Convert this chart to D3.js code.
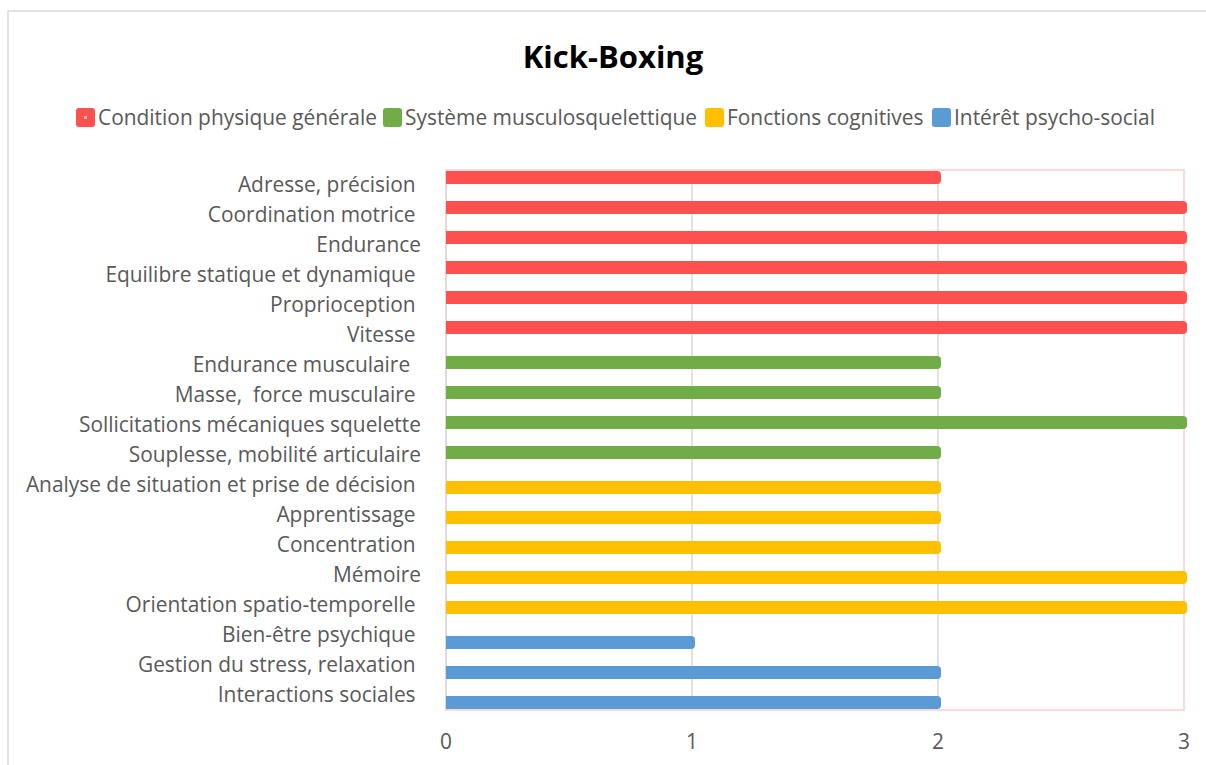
<!DOCTYPE html>
<html>
<head>
<meta charset="utf-8">
<script src="https://cdn.jsdelivr.net/npm/d3@7"></script>
<style>
  html, body { margin: 0; padding: 0; background: #fff; }
  svg text { white-space: pre; }
</style>
</head>
<body>
<div id="chart"></div>
<script>
// Activity categories, top to bottom, with trailing spaces kept as typed
const categories = [
  "Adresse, précision ", "Coordination motrice ", "Endurance", "Equilibre statique et dynamique ",
  "Proprioception ", "Vitesse ",
  "Endurance musculaire  ", "Masse,  force musculaire ", "Sollicitations mécaniques squelette",
  "Souplesse, mobilité articulaire",
  "Analyse de situation et prise de décision ", "Apprentissage ", "Concentration ", "Mémoire",
  "Orientation spatio-temporelle ",
  "Bien-être psychique ", "Gestion du stress, relaxation ", "Interactions sociales "
];
// Series index of each category (0..3)
const groupOf = [0,0,0,0,0,0, 1,1,1,1, 2,2,2,2,2, 3,3,3];
// Score for each category
const values = [2,3,3,3,3,3, 2,2,3,2, 2,2,2,3,3, 1,2,2];

const seriesNames = ["Condition physique générale", "Système musculosquelettique", "Fonctions cognitives", "Intérêt psycho-social"];
const seriesColors = ["#ff5050", "#70ad47", "#ffc000", "#5b9bd5"];
const xTicks = [0, 1, 2, 3];

const W = 1206, H = 765;
const plot = { left: 446, right: 1184, top: 170, bottom: 710 };
const barH = 13;
const labelFont = "'Open Sans', 'Noto Sans', sans-serif";
const labelSize = 20.9;

const svg = d3.select("#chart").append("svg")
  .attr("width", W).attr("height", H);

// chart frame
svg.append("rect")
  .attr("x", 8).attr("y", 11).attr("width", W + 20).attr("height", H + 20)
  .attr("fill", "#fff").attr("stroke", "#d9d9d9").attr("stroke-width", 1.5);

// title
svg.append("text")
  .attr("x", 613).attr("y", 68)
  .attr("text-anchor", "middle")
  .attr("font-family", labelFont)
  .attr("font-weight", "bold")
  .attr("font-size", 31)
  .attr("fill", "#000")
  .text("Kick-Boxing");

// legend
const legendX = [76, 383, 705, 932];
const legend = svg.append("g");
seriesNames.forEach((name, i) => {
  const g = legend.append("g").attr("transform", `translate(${legendX[i]},108)`);
  g.append("rect").attr("x", 0).attr("y", 0).attr("width", 19).attr("height", 19)
    .attr("rx", 3).attr("fill", seriesColors[i]);
  if (i === 0) {
    g.append("rect").attr("x", 8).attr("y", 8).attr("width", 3).attr("height", 3)
      .attr("fill", "#ffb3b3");
  }
  g.append("text").attr("x", 22).attr("y", 17)
    .attr("font-family", labelFont).attr("font-size", labelSize).attr("fill", "#595959")
    .text(name);
});

// scales: one band per category, series bars shifted within the band
const x = d3.scaleLinear().domain([0, 3]).range([plot.left, plot.right]);
const y = d3.scaleBand().domain(categories).range([plot.top, plot.bottom]);
const seriesShift = d3.scaleLinear().domain([0, seriesNames.length - 1]).range([-7.5, 7.5]);

// gridlines
svg.append("g").selectAll("line")
  .data(xTicks.slice(1, -1))
  .join("line")
  .attr("x1", d => x(d)).attr("x2", d => x(d))
  .attr("y1", plot.top).attr("y2", plot.bottom)
  .attr("stroke", "#d9d9d9").attr("stroke-width", 1.5);

// plot area border
svg.append("rect")
  .attr("x", plot.left).attr("y", plot.top)
  .attr("width", plot.right - plot.left).attr("height", plot.bottom - plot.top)
  .attr("fill", "none").attr("stroke", "#fcdada").attr("stroke-width", 2);
svg.append("line")
  .attr("x1", plot.left).attr("x2", plot.left)
  .attr("y1", plot.top).attr("y2", plot.bottom)
  .attr("stroke", "#d9d9d9").attr("stroke-width", 1.5);

// bars: square at the axis, rounded at the value end
const r = 4;
svg.append("g").selectAll("path")
  .data(categories.map((c, i) => ({ c, v: values[i], g: groupOf[i] })))
  .join("path")
  .attr("d", d => {
    const cy = y(d.c) + y.bandwidth() / 2 + seriesShift(d.g);
    const x0 = x(0), x1 = x(d.v) + 3, y0 = cy - barH / 2, y1 = cy + barH / 2;
    return `M${x0},${y0}H${x1 - r}Q${x1},${y0} ${x1},${y0 + r}V${y1 - r}Q${x1},${y1} ${x1 - r},${y1}H${x0}Z`;
  })
  .attr("fill", d => seriesColors[d.g]);

// category labels
svg.append("g").selectAll("text")
  .data(categories)
  .join("text")
  .attr("x", 421)
  .attr("y", d => y(d) + y.bandwidth() / 2 + 7)
  .attr("text-anchor", "end")
  .attr("font-family", labelFont).attr("font-size", labelSize).attr("fill", "#595959")
  .text(d => d);

// x axis tick labels
svg.append("g").selectAll("text")
  .data(xTicks)
  .join("text")
  .attr("x", d => x(d))
  .attr("y", 749)
  .attr("text-anchor", "middle")
  .attr("font-family", labelFont).attr("font-size", labelSize).attr("fill", "#595959")
  .text(d => d);
</script>
</body>
</html>
